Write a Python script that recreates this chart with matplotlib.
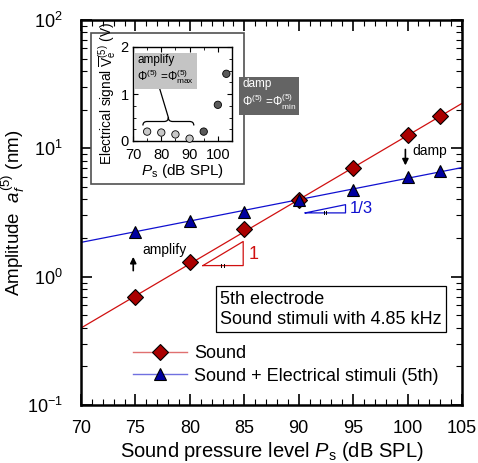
import matplotlib
matplotlib.use("Agg")
import matplotlib.pyplot as plt
from matplotlib.patches import Rectangle, PathPatch
from matplotlib.path import Path
from matplotlib.ticker import MultipleLocator, LogLocator, NullFormatter

plt.rcParams['font.family'] = ['Liberation Sans', 'DejaVu Sans']
plt.rcParams['mathtext.fontset'] = 'custom'
plt.rcParams['mathtext.rm'] = 'Liberation Sans'
plt.rcParams['mathtext.it'] = 'Liberation Sans:italic'
plt.rcParams['mathtext.bf'] = 'Liberation Sans:bold'
plt.rcParams['axes.unicode_minus'] = False

# data
spl = [75, 80, 85, 90, 95, 100, 103]
amp_sound = [0.70, 1.29, 2.37, 3.98, 7.07, 12.6, 18.0]
amp_elec = [2.24, 2.73, 3.21, 3.98, 4.77, 6.0, 6.6]

# fitted lines (slope 1 and slope 1/3), end points
fit_x = [70, 105]
fit_sound = [0.398, 22.4]
fit_elec = [1.85, 7.08]

# inset: electrical signal
inset_spl = [75, 80, 85, 90, 95, 100, 103]
inset_v = [0.20, 0.18, 0.14, 0.05, 0.20, 0.77, 1.43]
inset_col = ['#c8c8c8', '#c8c8c8', '#c8c8c8', '#c8c8c8', '#5a5a5a', '#5a5a5a', '#5a5a5a']

W, H = 478, 463
fig = plt.figure(figsize=(W / 100, H / 100), dpi=100)


def fx(x):
    return x / W


def fy(y):
    return 1 - y / H


ax = fig.add_axes([fx(81), fy(405), fx(462) - fx(81), fy(20) - fy(405)])

ax.plot(fit_x, fit_sound, color='#d01010', lw=0.9, zorder=2)
ax.plot(fit_x, fit_elec, color='#1010d0', lw=0.9, zorder=2)
ax.plot(spl, amp_sound, ls='none', marker='D', ms=8, mfc='#aa0000', mec='black', mew=0.8, zorder=3)
ax.plot(spl, amp_elec, ls='none', marker='^', ms=9, mfc='#0000a0', mec='black', mew=0.8, zorder=4)

# legend proxies
ax.plot([], [], color='#e07070', lw=1.0, marker='D', ms=8, mfc='#aa0000', mec='black', mew=0.8, label='Sound')
ax.plot([], [], color='#7070e0', lw=1.0, marker='^', ms=9, mfc='#0000a0', mec='black', mew=0.8,
        label='Sound + Electrical stimuli (5th)')
ax.legend(loc='center left', bbox_to_anchor=(0.136, 0.104), frameon=False, fontsize=13,
          handlelength=3.0, handletextpad=0.4, labelspacing=0.3, borderaxespad=0, borderpad=0)

ax.set_xlim(70, 105)
ax.set_yscale('log')
ax.set_ylim(0.1, 100)
ax.xaxis.set_major_locator(MultipleLocator(5))
ax.xaxis.set_minor_locator(MultipleLocator(1))
ax.yaxis.set_major_locator(LogLocator(base=10, numticks=10))
ax.yaxis.set_minor_locator(LogLocator(base=10, subs=range(2, 10), numticks=10))
ax.yaxis.set_minor_formatter(NullFormatter())
ax.tick_params(which='both', direction='in', top=True, right=True, labelsize=13)
ax.tick_params(which='major', length=8, width=1.2)
ax.tick_params(which='minor', length=4, width=0.8)
ax.tick_params(axis='x', which='major', pad=11)
ax.tick_params(axis='y', which='major', pad=13)
for s in ax.spines.values():
    s.set_linewidth(1.8)

ax.set_xlabel('Sound pressure level $\\mathit{P}_{\\mathrm{s}}$ (dB SPL)', fontsize=14.5, labelpad=2)
ax.set_ylabel('Amplitude  $\\mathit{a}_{\\mathit{f}}^{(5)}$ (nm)', fontsize=13.5, labelpad=0)

# annotations
ax.annotate('', xy=(74.8, 1.5), xytext=(74.8, 1.06),
            arrowprops=dict(arrowstyle='-|>', color='black', lw=1.2, mutation_scale=9))
ax.text(75.6, 1.62, 'amplify', fontsize=10, va='center', ha='left')
ax.annotate('', xy=(99.8, 7.0), xytext=(99.8, 10.3),
            arrowprops=dict(arrowstyle='-|>', color='black', lw=1.2, mutation_scale=9))
ax.text(100.4, 9.5, 'damp', fontsize=10, va='center', ha='left')

# slope triangles
ax.plot([81.2, 84.9, 84.9, 81.2], [1.22, 1.22, 1.88, 1.22], color='#d01010', lw=0.9)
ax.plot([82.9, 82.9], [1.19, 1.26], color='black', lw=0.7)
ax.plot([83.1, 83.1], [1.19, 1.26], color='black', lw=0.7)
ax.text(85.4, 1.5, '1', color='#d01010', fontsize=13, va='center', ha='left')
ax.plot([90.6, 94.3, 94.3, 90.6], [3.14, 3.14, 3.64, 3.14], color='#1010d0', lw=0.9)
ax.plot([92.3, 92.3], [3.06, 3.22], color='black', lw=0.7)
ax.plot([92.5, 92.5], [3.06, 3.22], color='black', lw=0.7)
ax.text(94.7, 3.4, '1/3', color='#1010d0', fontsize=12, va='center', ha='left')

ax.text(0.365, 0.297, '5th electrode\nSound stimuli with 4.85 kHz', transform=ax.transAxes,
        fontsize=13, va='top', ha='left', linespacing=1.25,
        bbox=dict(boxstyle='square,pad=0.25', fc='white', ec='black', lw=0.9))

# inset
fig.patches.append(Rectangle((fx(91), fy(184)), fx(244) - fx(91), fy(33) - fy(184),
                             transform=fig.transFigure, fc='white', ec='#505050', lw=1.2, zorder=5))
ins = fig.add_axes([fx(133), fy(141), fx(232) - fx(133), fy(47) - fy(141)], zorder=6)
ins.scatter(inset_spl, inset_v, s=28, c=inset_col, edgecolors='black', linewidths=0.6, zorder=3, clip_on=False)
ins.set_xlim(70, 105)
ins.set_ylim(0, 2)
ins.set_xticks([70, 80, 90, 100])
ins.set_yticks([0, 1, 2])
ins.xaxis.set_minor_locator(MultipleLocator(5))
ins.yaxis.set_minor_locator(MultipleLocator(0.25))
ins.tick_params(which='both', direction='in', top=True, right=True, labelsize=10.5)
ins.tick_params(which='major', length=3.5)
ins.tick_params(which='minor', length=2)
ins.tick_params(axis='x', pad=5)
ins.tick_params(axis='y', pad=3)
for s in ins.spines.values():
    s.set_linewidth(1.0)
ins.set_xlabel('$\\mathit{P}_{\\mathrm{s}}$ (dB SPL)', fontsize=11, labelpad=0)
ins.set_ylabel('Electrical signal $\\overline{\\mathrm{V}}_{\\mathrm{e}}^{(5)}$ (V)', fontsize=9.8, labelpad=2)

# brace under amplify box
bx0, bx1, by, bh = 73.5, 91.5, 0.33, 0.17
bm = (bx0 + bx1) / 2
verts = [(bx0, by), (bx0, by + bh / 2), (bx0 + 1.5, by + bh / 2),
         (bm - 1.5, by + bh / 2), (bm, by + bh / 2), (bm, by + bh),
         (bm, by + bh / 2), (bm + 1.5, by + bh / 2), (bx1 - 1.5, by + bh / 2),
         (bx1, by + bh / 2), (bx1, by)]
codes = [Path.MOVETO, Path.CURVE3, Path.CURVE3, Path.LINETO, Path.CURVE3, Path.CURVE3,
         Path.CURVE3, Path.CURVE3, Path.LINETO, Path.CURVE3, Path.CURVE3]
ins.add_patch(PathPatch(Path(verts, codes), fc='none', ec='black', lw=0.9, zorder=4))
ins.plot([79.5, bm], [1.1, by + bh], color='black', lw=0.9, zorder=4)

fig.text(fx(137), fy(70), 'amplify\n$\\mathit{Φ}^{(5)}$ =$\\mathit{Φ}_{\\mathrm{max}}^{(5)}$',
         fontsize=8.5, va='center', ha='left', linespacing=1.15, zorder=10,
         bbox=dict(boxstyle='square,pad=0.25', fc='#c4c4c4', ec='none'))
fig.text(fx(242), fy(95), 'damp\n$\\mathit{Φ}^{(5)}$ =$\\mathit{Φ}_{\\mathrm{min}}^{(5)}$',
         fontsize=8.5, va='center', ha='left', linespacing=1.15, color='white', zorder=10,
         bbox=dict(boxstyle='square,pad=0.25', fc='#646464', ec='none'))

fig.savefig('out.png', dpi=100)
